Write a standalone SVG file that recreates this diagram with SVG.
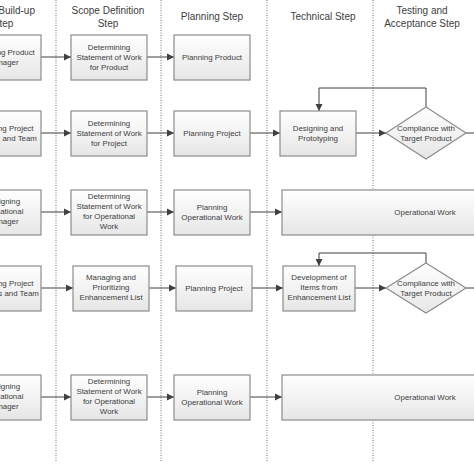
<svg xmlns="http://www.w3.org/2000/svg" width="474" height="474" viewBox="0 0 474 474">
<defs>
<linearGradient id="g" x1="0" y1="0" x2="0" y2="1">
<stop offset="0" stop-color="#ffffff"/>
<stop offset="1" stop-color="#e6e6e6"/>
</linearGradient>
<marker id="ah" markerWidth="8" markerHeight="8" refX="7" refY="4" orient="auto" markerUnits="userSpaceOnUse">
<path d="M0,0.5 L7,4 L0,7.5 Z" fill="#404040"/>
</marker>
<style>
.box{fill:url(#g);stroke:#8c8c8c;stroke-width:1.2}
.t{font-family:"Liberation Sans",Arial,sans-serif;font-size:7.9px;fill:#404040;text-anchor:middle}
.h{font-family:"Liberation Sans",Arial,sans-serif;font-size:10px;fill:#404040;text-anchor:middle}
.sep{stroke:#8a8a8a;stroke-width:1.2;stroke-dasharray:1 1.5;fill:none}
.c{stroke:#404040;stroke-width:1;fill:none}
</style>
</defs>
<rect width="474" height="474" fill="#ffffff"/>
<g id="lanes">
<line class="sep" x1="56" y1="0" x2="56" y2="461"/>
<line class="sep" x1="161" y1="0" x2="161" y2="461"/>
<line class="sep" x1="267" y1="0" x2="267" y2="461"/>
<line class="sep" x1="373" y1="0" x2="373" y2="461"/>
</g>
<g id="headers">
<text class="h" x="3" y="14">Team Build-up</text>
<text class="h" x="3" y="27">Step</text>
<text class="h" x="108" y="14">Scope Definition</text>
<text class="h" x="108" y="27">Step</text>
<text class="h" x="212" y="20">Planning Step</text>
<text class="h" x="323" y="20">Technical Step</text>
<text class="h" x="422" y="14">Testing and</text>
<text class="h" x="422" y="27">Acceptance Step</text>
</g>
<g id="connectors">
<line class="c" x1="41" y1="57" x2="71" y2="57" marker-end="url(#ah)"/>
<line class="c" x1="147" y1="57" x2="174" y2="57" marker-end="url(#ah)"/>
<line class="c" x1="41" y1="133" x2="71" y2="133" marker-end="url(#ah)"/>
<line class="c" x1="147" y1="133" x2="174" y2="133" marker-end="url(#ah)"/>
<line class="c" x1="250" y1="133" x2="280" y2="133" marker-end="url(#ah)"/>
<line class="c" x1="356" y1="133" x2="386" y2="133" marker-end="url(#ah)"/>
<line class="c" x1="466" y1="133" x2="474" y2="133"/>
<path class="c" d="M426,107 V88 H319 V111" marker-end="url(#ah)"/>
<line class="c" x1="41" y1="212" x2="71" y2="212" marker-end="url(#ah)"/>
<line class="c" x1="147" y1="212" x2="174" y2="212" marker-end="url(#ah)"/>
<line class="c" x1="250" y1="212" x2="282" y2="212" marker-end="url(#ah)"/>
<line class="c" x1="41" y1="288" x2="73" y2="288" marker-end="url(#ah)"/>
<line class="c" x1="149" y1="288" x2="176" y2="288" marker-end="url(#ah)"/>
<line class="c" x1="252" y1="288" x2="283" y2="288" marker-end="url(#ah)"/>
<line class="c" x1="355" y1="288" x2="386" y2="288" marker-end="url(#ah)"/>
<line class="c" x1="466" y1="288" x2="474" y2="288"/>
<path class="c" d="M426,263 V253 H319 V266" marker-end="url(#ah)"/>
<line class="c" x1="41" y1="397" x2="71" y2="397" marker-end="url(#ah)"/>
<line class="c" x1="147" y1="397" x2="174" y2="397" marker-end="url(#ah)"/>
<line class="c" x1="250" y1="397" x2="282" y2="397" marker-end="url(#ah)"/>
</g>
<g id="n1a"><rect class="box" x="-35" y="35" width="76" height="45"/><text class="t" x="3" y="55">Assigning Product</text><text class="t" x="3" y="65">Manager</text></g>
<g id="n1b"><rect class="box" x="71" y="35" width="76" height="45"/><text class="t" x="109" y="50">Determining</text><text class="t" x="109" y="60">Statement of Work</text><text class="t" x="109" y="70">for Product</text></g>
<g id="n1c"><rect class="box" x="174" y="35" width="76" height="45"/><text class="t" x="212" y="60">Planning Product</text></g>
<g id="n2a"><rect class="box" x="-35" y="111" width="76" height="45"/><text class="t" x="3" y="131">Assigning Project</text><text class="t" x="3" y="141">Manager and Team</text></g>
<g id="n2b"><rect class="box" x="71" y="111" width="76" height="45"/><text class="t" x="109" y="126">Determining</text><text class="t" x="109" y="136">Statement of Work</text><text class="t" x="109" y="146">for Project</text></g>
<g id="n2c"><rect class="box" x="174" y="111" width="76" height="45"/><text class="t" x="212" y="136">Planning Project</text></g>
<g id="n2d"><rect class="box" x="280" y="111" width="76" height="45"/><text class="t" x="318" y="131">Designing and</text><text class="t" x="318" y="141">Prototyping</text></g>
<g id="n2e"><polygon class="box" points="426,107 466,133 426,159 386,133"/><text class="t" x="426" y="131">Compliance with</text><text class="t" x="426" y="141">Target Product</text></g>
<g id="n3a"><rect class="box" x="-35" y="190" width="76" height="45"/><text class="t" x="3" y="204">Assigning</text><text class="t" x="3" y="214">Operational</text><text class="t" x="3" y="224">Manager</text></g>
<g id="n3b"><rect class="box" x="71" y="190" width="76" height="45"/><text class="t" x="109" y="199">Determining</text><text class="t" x="109" y="209">Statement of Work</text><text class="t" x="109" y="219">for Operational</text><text class="t" x="109" y="229">Work</text></g>
<g id="n3c"><rect class="box" x="174" y="190" width="76" height="45"/><text class="t" x="212" y="210">Planning</text><text class="t" x="212" y="220">Operational Work</text></g>
<g id="n3d"><rect class="box" x="282" y="190" width="200" height="45"/><text class="t" x="425" y="215">Operational Work</text></g>
<g id="n4a"><rect class="box" x="-35" y="266" width="76" height="45"/><text class="t" x="3" y="286">Assigning Project</text><text class="t" x="3" y="296">Managers and Team</text></g>
<g id="n4b"><rect class="box" x="73" y="266" width="76" height="45"/><text class="t" x="111" y="280">Managing and</text><text class="t" x="111" y="290">Prioritizing</text><text class="t" x="111" y="300">Enhancement List</text></g>
<g id="n4c"><rect class="box" x="176" y="266" width="76" height="45"/><text class="t" x="214" y="291">Planning Project</text></g>
<g id="n4d"><rect class="box" x="283" y="266" width="72" height="45"/><text class="t" x="319" y="280">Development of</text><text class="t" x="319" y="290">Items from</text><text class="t" x="319" y="300">Enhancement List</text></g>
<g id="n4e"><polygon class="box" points="426,263 466,288 426,313 386,288"/><text class="t" x="426" y="286">Compliance with</text><text class="t" x="426" y="296">Target Product</text></g>
<g id="n5a"><rect class="box" x="-35" y="375" width="76" height="45"/><text class="t" x="3" y="389">Assigning</text><text class="t" x="3" y="399">Operational</text><text class="t" x="3" y="409">Manager</text></g>
<g id="n5b"><rect class="box" x="71" y="375" width="76" height="45"/><text class="t" x="109" y="384">Determining</text><text class="t" x="109" y="394">Statement of Work</text><text class="t" x="109" y="404">for Operational</text><text class="t" x="109" y="414">Work</text></g>
<g id="n5c"><rect class="box" x="174" y="375" width="76" height="45"/><text class="t" x="212" y="395">Planning</text><text class="t" x="212" y="405">Operational Work</text></g>
<g id="n5d"><rect class="box" x="282" y="375" width="200" height="45"/><text class="t" x="425" y="400">Operational Work</text></g>
</svg>
